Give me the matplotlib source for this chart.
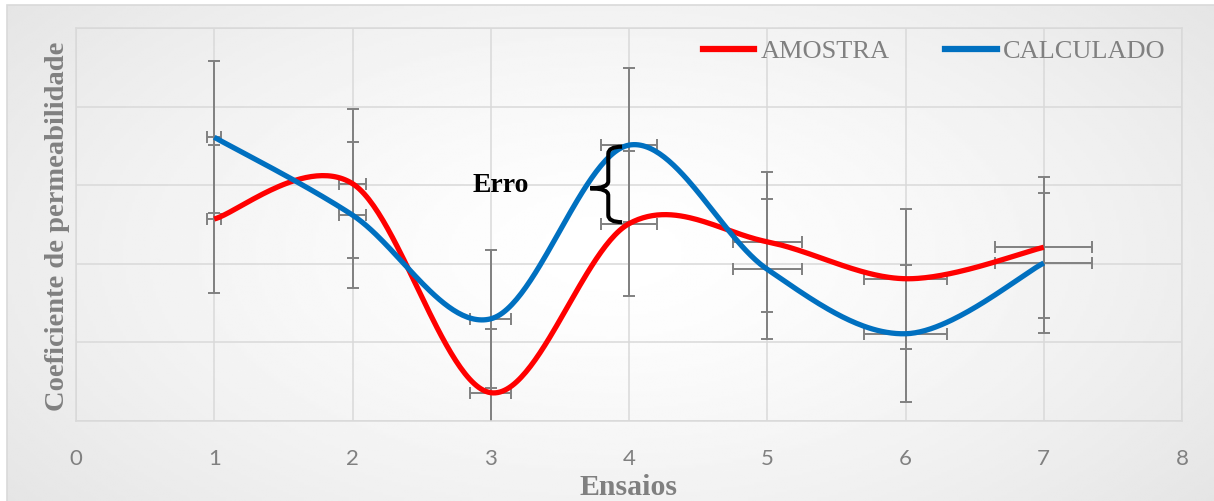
import numpy as np
import matplotlib.pyplot as plt
from matplotlib.lines import Line2D
from matplotlib.path import Path
from matplotlib.patches import PathPatch, Rectangle

# Dados (eixo y sem rótulos, escala 0-5)
ensaios = [1, 2, 3, 4, 5, 6, 7]
amostra = [2.57, 3.02, 0.36, 2.51, 2.28, 1.81, 2.21]
calculado = [3.61, 2.62, 1.30, 3.51, 1.93, 1.11, 2.01]
erro_amostra = [0.94, 0.95, 0.81, 0.92, 0.89, 0.89, 0.90]
erro_calculado = [0.97, 0.93, 0.88, 0.98, 0.89, 0.87, 0.89]
erro_x_pct = 5  # barra de erro em x: 5 %
xticks = [0, 1, 2, 3, 4, 5, 6, 7, 8]


def suavizar(x, y, n=60):
    # curva suavizada como no Excel (Bezier / Catmull-Rom)
    p = np.column_stack([x, y]).astype(float)
    ext = np.vstack([p[0], p, p[-1]])
    t = np.linspace(0, 1, n)[:, None]
    pts = []
    for i in range(len(p) - 1):
        p0, p1 = ext[i + 1], ext[i + 2]
        c1 = p0 + (ext[i + 2] - ext[i]) / 6
        c2 = p1 - (ext[i + 3] - ext[i + 1]) / 6
        seg = ((1 - t) ** 3) * p0 + 3 * ((1 - t) ** 2) * t * c1 \
            + 3 * (1 - t) * t ** 2 * c2 + t ** 3 * p1
        pts.append(seg if i == 0 else seg[1:])
    pts = np.vstack(pts)
    return pts[:, 0], pts[:, 1]


fig = plt.figure(figsize=(12.14, 5.01), dpi=100)
fig.patch.set_facecolor('white')

# fundo com gradiente
bg = fig.add_axes([7 / 1214, 0, 1 - 7 / 1214, 1 - 5 / 501])
gx, gy = np.meshgrid(np.linspace(-1, 1, 400), np.linspace(-1, 1, 200))
r = np.clip(np.sqrt((gx * 0.9) ** 2 + (gy * 0.7) ** 2), 0, 1.2)
bg.imshow(1 - 0.085 * r ** 1.4, cmap='gray', vmin=0, vmax=1,
          aspect='auto', extent=[0, 1, 0, 1])
bg.set_xlim(0, 1)
bg.set_ylim(0, 1)
bg.axis('off')
fig.patches.append(Rectangle((7 / 1214, -0.01), 1.0, 1.01 - 5 / 501,
                             transform=fig.transFigure, fill=False,
                             edgecolor='#d9d9d9', lw=1.2))

ax = fig.add_axes([76 / 1214, 80 / 501, 1106 / 1214, 393 / 501])
ax.set_facecolor('none')

xerr = [x * erro_x_pct / 100 for x in ensaios]
ax.errorbar(ensaios, amostra, yerr=erro_amostra, xerr=xerr, fmt='none',
            ecolor='#808080', elinewidth=1.4, capsize=4.5, capthick=1.4, zorder=2)
ax.errorbar(ensaios, calculado, yerr=erro_calculado, xerr=xerr, fmt='none',
            ecolor='#808080', elinewidth=1.4, capsize=4.5, capthick=1.4, zorder=2)

xs, ys = suavizar(ensaios, amostra)
ax.plot(xs, ys, color='#ff0000', lw=3.8, solid_capstyle='butt', zorder=3)
xs, ys = suavizar(ensaios, calculado)
ax.plot(xs, ys, color='#0070c0', lw=3.8, solid_capstyle='butt', zorder=4)

ax.set_xlim(0, 8)
ax.set_ylim(0, 5)
ax.set_xticks(xticks)
ax.set_yticks([0, 1, 2, 3, 4, 5])
ax.set_yticklabels([])
ax.grid(True, color='#d9d9d9', lw=1.1, zorder=0)
ax.set_axisbelow(True)
for s in ax.spines.values():
    s.set_color('#d9d9d9')
    s.set_linewidth(1.1)
ax.tick_params(length=0, labelsize=16, labelcolor='#808080', pad=20)
for lb in ax.get_xticklabels():
    lb.set_fontfamily('Lato')

ax.set_xlabel('Ensaios', fontfamily='Liberation Serif', fontweight='bold',
              fontsize=21.5, color='#808080', labelpad=4)
ax.set_ylabel('Coeficiente de permeabilidade', fontfamily='Liberation Serif',
              fontweight='bold', fontsize=20.5, color='#808080', va='center')
ax.yaxis.set_label_coords(-18 / 1106, 0.496)

# chave "Erro"
cod = [Path.MOVETO, Path.CURVE3, Path.CURVE3, Path.LINETO, Path.CURVE3, Path.CURVE3,
       Path.CURVE3, Path.CURVE3, Path.LINETO, Path.CURVE3, Path.CURVE3]
vert = [(3.95, 3.49), (3.85, 3.49), (3.85, 3.40), (3.85, 3.05), (3.85, 2.96),
        (3.72, 2.96), (3.85, 2.96), (3.85, 2.87), (3.85, 2.62), (3.85, 2.53),
        (3.95, 2.53)]
ax.add_patch(PathPatch(Path(vert, cod), fill=False, edgecolor='black', lw=2.9,
                       capstyle='butt', zorder=5))
ax.text(3.07, 2.99, 'Erro', fontfamily='Liberation Serif', fontweight='bold',
        fontsize=20, ha='center', va='center', color='black')

handles = [Line2D([], [], color='#ff0000', lw=4.5),
           Line2D([], [], color='#0070c0', lw=4.5)]
fig.legend(handles, ['AMOSTRA', 'CALCULADO'], loc='center right',
           bbox_to_anchor=(1166 / 1214, 0.898), ncol=2, frameon=False,
           prop={'family': 'Liberation Serif', 'size': 19},
           labelcolor='#808080', handlelength=1.95, handletextpad=0.25,
           columnspacing=2.1, borderpad=0, borderaxespad=0)

plt.savefig('out.png', dpi=100)
